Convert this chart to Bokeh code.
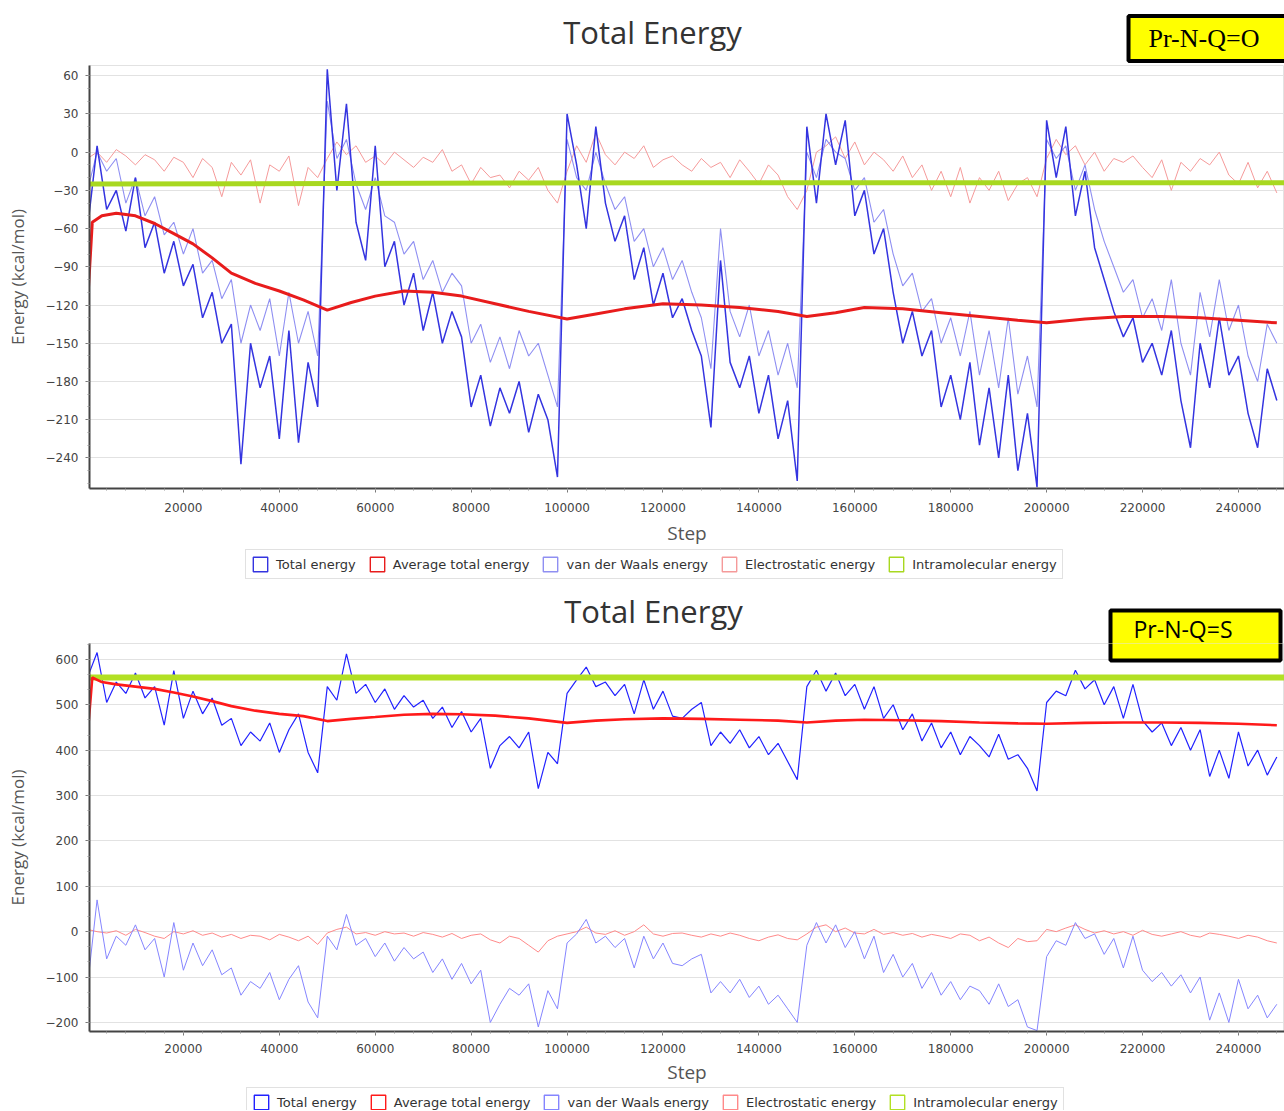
from bokeh.plotting import figure
from bokeh.models import (Range1d, Legend, LegendItem, Label, FixedTicker,
                          BasicTickFormatter, BoxAnnotation)
from bokeh.layouts import column
from bokeh.embed import file_html
from bokeh.resources import INLINE

# ---------------- data ----------------
steps = list(range(0, 250000, 2000))          # 125 samples, one every 2000 steps
avg_steps = [0, 1000, 3000, 6000, 10000, 14000, 18000, 22000, 26000, 30000,
             35000, 40000, 45000, 50000, 55000, 60000, 66000, 72000, 78000, 85000,
             92000, 100000, 106000, 112000, 120000, 128000, 136000, 144000, 150000, 156000,
             162000, 170000, 178000, 186000, 194000, 200000, 208000, 216000, 224000, 232000,
             240000, 248000]
intra_steps = [0, 124000, 249600]

legend_labels = ["Total energy", "Average total energy", "van der Waals energy",
                 "Electrostatic energy", "Intramolecular energy"]

# ---- panel 1 : Pr-N-Q=O ----
top_total = [
    -60, 5, -45, -30, -62, -20, -75, -55, -95, -70, -105, -88, -130, -110, -150, -135, -245, -150, -185, -160, -225, -140, -228, -165, -200,
    65, -30, 38, -55, -85, 5, -90, -70, -120, -95, -140, -110, -150, -125, -145, -200, -175, -215, -185, -205, -180, -220, -190, -210, -255,
    30, -10, -60, 20, -40, -70, -50, -100, -75, -120, -95, -130, -115, -140, -160, -216, -85, -165, -185, -160, -205, -175, -225, -195, -258,
    20, -40, 30, -10, 25, -50, -30, -80, -60, -110, -150, -125, -160, -140, -200, -175, -210, -165, -230, -185, -240, -175, -250, -205, -263,
    25, -20, 20, -50, -15, -75, -100, -125, -145, -130, -165, -150, -175, -140, -195, -232, -150, -185, -130, -175, -160, -205, -232, -170, -195]
top_vdw = [
    -30, 0, -15, -5, -40, -20, -50, -35, -65, -55, -80, -60, -95, -85, -115, -100, -150, -120, -140, -115, -160, -110, -150, -125, -160,
    40, -5, 10, -25, -45, -20, -50, -55, -80, -70, -100, -85, -110, -95, -105, -150, -135, -165, -145, -170, -140, -160, -150, -175, -200,
    10, -20, -30, 0, -25, -45, -35, -70, -60, -90, -75, -100, -85, -110, -130, -170, -60, -125, -145, -120, -160, -140, -175, -150, -185,
    0, -20, 10, 0, -5, -30, -20, -55, -45, -80, -105, -95, -125, -115, -150, -130, -160, -125, -175, -140, -185, -130, -190, -160, -200,
    10, -5, 5, -30, -10, -45, -70, -90, -110, -100, -130, -115, -140, -100, -150, -175, -110, -145, -100, -140, -120, -160, -180, -135, -150]
top_elec = [
    -5, 0, -8, 2, -3, -10, -2, -6, -15, -4, -8, -20, -5, -12, -35, -8, -18, -6, -40, -10, -15, -3, -42, -12, -20,
    -5, 8, -2, 5, -8, -3, -10, 0, -6, -12, -4, -8, 2, -15, -10, -25, -12, -20, -18, -28, -15, -22, -12, -30, -40,
    -15, 5, -8, 15, -2, -10, 0, -5, 5, -12, -6, -3, -10, -15, -5, -12, -8, -20, -6, -15, -25, -10, -18, -35, -45,
    -30, 0, 5, 12, -5, 8, -10, 0, -6, -15, -3, -20, -10, -30, -15, -35, -12, -40, -20, -30, -15, -38, -25, -20, -35,
    -5, 10, -2, 5, -10, 0, -15, -5, -8, -3, -12, -20, -6, -30, -8, -15, -5, -10, 0, -18, -25, -8, -28, -15, -32]
top_avg = [-120, -55, -50, -48, -50, -56, -64, -72, -83, -95,
           -103, -109, -116, -124, -118, -113, -109, -110, -113, -119,
           -125, -131, -127, -123, -119, -120, -122, -125, -129, -126,
           -122, -123, -126, -129, -132, -134, -131, -129, -129, -130,
           -132, -134]
top_intra = [-25, -24, -24]

# ---- panel 2 : Pr-N-Q=S ----
bot_total = [
    560, 615, 505, 550, 525, 570, 515, 540, 455, 575, 470, 530, 480, 515, 455, 470, 410, 440, 420, 460, 395, 445, 480, 395, 350,
    540, 510, 612, 525, 545, 505, 535, 490, 520, 495, 510, 470, 495, 450, 485, 440, 470, 360, 410, 430, 405, 440, 315, 395, 370,
    525, 555, 583, 540, 550, 520, 545, 480, 555, 490, 530, 475, 470, 490, 505, 410, 440, 415, 445, 405, 430, 390, 415, 375, 335,
    540, 576, 530, 570, 520, 545, 490, 540, 470, 500, 445, 480, 420, 460, 405, 440, 390, 430, 410, 385, 435, 380, 390, 360, 310,
    505, 530, 520, 576, 535, 555, 500, 540, 470, 545, 465, 440, 460, 410, 450, 400, 445, 342, 400, 338, 440, 365, 400, 345, 385]
bot_vdw = [
    -120, 70, -60, -10, -30, 15, -40, -15, -100, 20, -85, -25, -75, -40, -95, -80, -140, -110, -125, -90, -150, -105, -75, -155, -190,
    -10, -40, 38, -30, -15, -55, -25, -65, -35, -60, -45, -90, -60, -105, -70, -115, -85, -200, -160, -125, -140, -115, -210, -130, -170,
    -25, -5, 27, -25, -10, -35, -15, -80, -10, -60, -25, -70, -75, -60, -50, -135, -110, -135, -105, -145, -120, -160, -140, -170, -200,
    -30, 20, -25, 15, -35, 0, -60, -10, -90, -50, -100, -70, -125, -90, -140, -110, -150, -120, -130, -160, -115, -165, -150, -210, -218,
    -55, -20, -30, 20, -15, -5, -50, -15, -80, -10, -85, -110, -90, -120, -95, -135, -100, -195, -135, -200, -105, -170, -140, -190, -160]
bot_elec = [
    5, 0, -3, 2, -8, 5, -2, -10, -15, 0, -5, 2, -8, -3, -12, -6, -15, -8, -10, -18, -6, -12, -20, -10, -28,
    -3, 5, 10, -5, -2, -8, 0, -5, -3, -10, -2, -6, -12, -4, -15, -8, -5, -18, -25, -10, -15, -30, -45, -20, -10,
    -5, 0, 10, -3, -6, 2, -8, 0, 15, -5, -10, -4, -3, -8, -12, -5, -10, -3, -8, -15, -20, -12, -7, -15, -18,
    -5, 10, 15, 0, 8, -3, -5, 5, -6, -2, -8, -4, -12, -6, -10, -15, -5, -8, -20, -12, -25, -35, -15, -22, -20,
    5, 0, 8, 15, 5, -3, 2, -5, 0, -8, 3, -6, -10, -5, 0, -8, -12, -3, -6, -10, -15, -8, -12, -20, -25]
bot_avg = [430, 560, 550, 545, 540, 535, 527, 518, 508, 497,
           487, 480, 475, 464, 469, 473, 478, 480, 479, 476,
           470, 460, 465, 468, 470, 469, 467, 465, 461, 465,
           467, 466, 464, 461, 459, 458, 460, 461, 461, 460,
           458, 455]
bot_intra = [560, 560, 560]

x_ticks = [20000, 40000, 60000, 80000, 100000, 120000, 140000, 160000, 180000, 200000, 220000, 240000]
top_yticks = [60, 30, 0, -30, -60, -90, -120, -150, -180, -210, -240]
bot_yticks = [600, 500, 400, 300, 200, 100, 0, -100, -200]
nan = float("nan")
XR = (420, 249600)
W = 1284
LEFT = 89


def bare(height):
    """figure with no axes: used for the heading and for the legend strip"""
    f = figure(width=W, height=height, x_range=Range1d(*XR), y_range=Range1d(0, height),
               output_backend="svg", toolbar_location=None,
               x_axis_location=None, y_axis_location=None,
               min_border_left=LEFT, min_border_right=0, min_border_top=0,
               min_border_bottom=0)
    f.grid.visible = False
    f.outline_line_color = None
    f.background_fill_color = "white"
    f.border_fill_color = "white"
    return f


def add_title(h, pos):
    h.add_layout(Label(x=pos[0], y=pos[1], text="Total Energy", text_font="Open Sans",
                       text_font_size="31px", text_color="#333333", text_align="center",
                       text_baseline="middle"))


def legend_strip(height, colors, loc):
    g = bare(height)
    items = []
    for lab, c in zip(legend_labels, colors):
        box = g.quad(left=[nan], right=[nan], top=[nan], bottom=[nan],
                     fill_color="white", line_color=c, line_width=1.4)
        items.append(LegendItem(label=lab, renderers=[box]))
    leg = Legend(items=items, orientation="horizontal", location=loc,
                 border_line_color="#c4c4c4", border_line_width=1,
                 background_fill_color="white", background_fill_alpha=1,
                 label_text_font="DejaVu Sans", label_text_font_size="13px",
                 label_text_color="#333333", glyph_width=18, glyph_height=18,
                 label_standoff=7, spacing=12, padding=5, margin=0,
                 label_height=18)
    g.add_layout(leg)
    return g


def panel(height, yr, yticks, yminor, series, colors, widths, b_bottom, tick_standoff,
          label_standoff):
    p = figure(width=W, height=height, x_range=Range1d(*XR), y_range=Range1d(*yr),
               output_backend="svg", toolbar_location=None,
               min_border_left=LEFT, min_border_right=0, min_border_top=0,
               min_border_bottom=b_bottom)
    p.background_fill_color = "white"
    p.border_fill_color = "white"
    p.outline_line_color = "#e2e2e2"
    p.xgrid.visible = False
    p.ygrid.grid_line_color = "#e2e2e2"
    p.ygrid.grid_line_width = 1.2

    p.xaxis.ticker = FixedTicker(ticks=x_ticks, minor_ticks=list(range(0, 250000, 4000)))
    p.xaxis.formatter = BasicTickFormatter(use_scientific=False)
    p.yaxis.ticker = FixedTicker(ticks=yticks, minor_ticks=yminor)
    for ax in (p.xaxis[0], p.yaxis[0]):
        ax.axis_line_color = "#444444"
        ax.axis_line_width = 2
        ax.major_tick_line_color = "#777777"
        ax.minor_tick_line_color = "#999999"
        ax.major_tick_out = 4
        ax.major_tick_in = 0
        ax.minor_tick_out = 2
        ax.minor_tick_in = 0
        ax.major_label_text_font = "DejaVu Sans"
        ax.major_label_text_font_size = "12px"
        ax.major_label_text_color = "#444444"
        ax.axis_label_text_font = "Open Sans"
        ax.axis_label_text_font_style = "normal"
        ax.axis_label_text_color = "#555555"
    p.xaxis.major_label_standoff = tick_standoff
    p.yaxis.major_label_standoff = 7
    p.xaxis.axis_label = "Step"
    p.xaxis.axis_label_text_font_size = "19px"
    p.xaxis.axis_label_standoff = label_standoff
    p.yaxis.axis_label = "Energy (kcal/mol)"
    p.yaxis.axis_label_text_font_size = "17px"
    p.yaxis.axis_label_standoff = 14

    total, avg, vdw, elec, intra = series
    p.line(steps, elec, color=colors[3], line_width=widths[3])
    p.line(steps, vdw, color=colors[2], line_width=widths[2])
    p.line(steps, total, color=colors[0], line_width=widths[0])
    p.line(intra_steps, intra, color=colors[4], line_width=widths[4])
    p.line(avg_steps, avg, color=colors[1], line_width=widths[1])
    return p


top_minor = list(range(-260, 70, 10))
bot_minor = [-200 + k * 100 / 3 for k in range(26)]
top_colors = ["#3434e0", "#e81c1c", "#8f8ff2", "#f59a9a", "#a8d820"]
bot_colors = ["#2222ff", "#ff1a1a", "#8585ff", "#ff8a8a", "#b2e024"]

# page rows: 65 + 483 + 40 + 55 + 444 + 23 = 1110 px
h1 = bare(65)
add_title(h1, (117816, 34))
# yellow tag, padding given as (left, right, top, bottom)
h1.add_layout(Label(x=217075, y=27, text="Pr-N-Q=O", text_font="Liberation Serif",
                    text_font_size="26px", text_color="black", text_align="left",
                    text_baseline="middle", background_fill_color="#ffff00",
                    border_line_color="black", border_line_width=4, padding=(20, 40, 8, 8)))
p1 = panel(483, (-264, 68), top_yticks, top_minor,
           (top_total, top_avg, top_vdw, top_elec, top_intra),
           top_colors, [1.5, 3, 1.1, 1, 5], 60, 10, 5)
l1 = legend_strip(40, top_colors, (156, 9))

h2 = bare(55)
add_title(h2, (118025, 33))
# upper part of the yellow "Pr-N-Q=S" tag (continues into the plot below)
h2.add_layout(BoxAnnotation(left=213318, right=248769, bottom=-30, top=33,
                            fill_color="#ffff00", fill_alpha=1,
                            line_color="black", line_alpha=1, line_width=4))
h2.add_layout(Label(x=218115, y=15, text="Pr-N-Q=S", text_font="Open Sans",
                    text_font_size="23px", text_color="black", text_align="left",
                    text_baseline="middle"))
p2 = panel(444, (-220, 635), bot_yticks, bot_minor,
           (bot_total, bot_avg, bot_vdw, bot_elec, bot_intra),
           bot_colors, [1.2, 2.6, 1, 1, 6], 55, 8, 3)
# lower part of the same tag, which reaches into the plot area
p2.add_layout(BoxAnnotation(left=213318, right=248769, bottom=597.6, top=700,
                            fill_color="#ffff00", fill_alpha=1,
                            line_color="black", line_alpha=1, line_width=4))
l2 = legend_strip(23, bot_colors, (157, -7))

layout = column(h1, p1, l1, h2, p2, l2)
open("out.html", "w").write(file_html(layout, INLINE))
